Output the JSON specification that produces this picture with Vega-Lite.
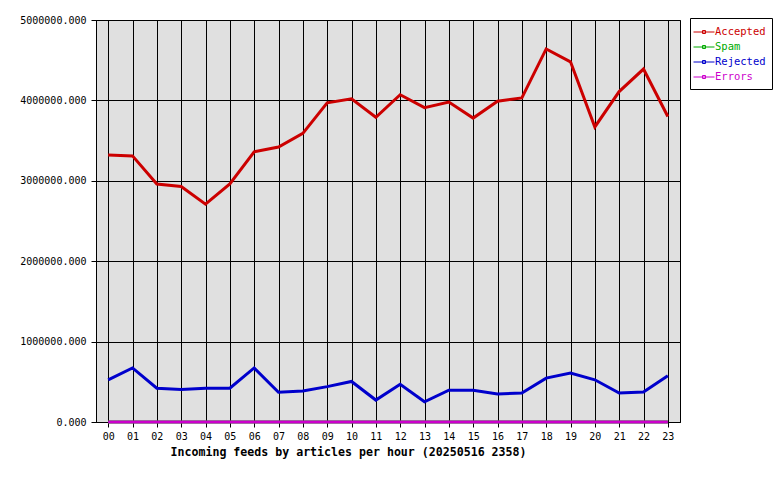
{
  "$schema": "https://vega.github.io/schema/vega-lite/v6.json",
  "width": 584,
  "height": 402,
  "autosize": {"type": "none"},
  "padding": {"left": 96, "top": 20, "right": 100, "bottom": 58},
  "background": "white",
  "config": {
    "view": {"fill": "#e0e0e0", "stroke": "black", "strokeWidth": 1},
    "font": "DejaVu Sans Mono",
    "axis": {
      "gridColor": "black",
      "gridOpacity": 1,
      "gridWidth": 1,
      "domainColor": "black",
      "tickColor": "black",
      "labelColor": "black",
      "labelFont": "DejaVu Sans Mono",
      "labelFontSize": 10,
      "tickSize": 5
    }
  },
  "data": {
    "values": [
      {"hour": "00", "series": "Accepted", "value": 3320000},
      {"hour": "01", "series": "Accepted", "value": 3310000},
      {"hour": "02", "series": "Accepted", "value": 2960000},
      {"hour": "03", "series": "Accepted", "value": 2930000},
      {"hour": "04", "series": "Accepted", "value": 2710000},
      {"hour": "05", "series": "Accepted", "value": 2960000},
      {"hour": "06", "series": "Accepted", "value": 3360000},
      {"hour": "07", "series": "Accepted", "value": 3420000},
      {"hour": "08", "series": "Accepted", "value": 3590000},
      {"hour": "09", "series": "Accepted", "value": 3970000},
      {"hour": "10", "series": "Accepted", "value": 4020000},
      {"hour": "11", "series": "Accepted", "value": 3790000},
      {"hour": "12", "series": "Accepted", "value": 4070000},
      {"hour": "13", "series": "Accepted", "value": 3910000},
      {"hour": "14", "series": "Accepted", "value": 3980000},
      {"hour": "15", "series": "Accepted", "value": 3780000},
      {"hour": "16", "series": "Accepted", "value": 3990000},
      {"hour": "17", "series": "Accepted", "value": 4030000},
      {"hour": "18", "series": "Accepted", "value": 4640000},
      {"hour": "19", "series": "Accepted", "value": 4480000},
      {"hour": "20", "series": "Accepted", "value": 3670000},
      {"hour": "21", "series": "Accepted", "value": 4110000},
      {"hour": "22", "series": "Accepted", "value": 4390000},
      {"hour": "23", "series": "Accepted", "value": 3800000},
      {"hour": "00", "series": "Spam", "value": 0},
      {"hour": "01", "series": "Spam", "value": 0},
      {"hour": "02", "series": "Spam", "value": 0},
      {"hour": "03", "series": "Spam", "value": 0},
      {"hour": "04", "series": "Spam", "value": 0},
      {"hour": "05", "series": "Spam", "value": 0},
      {"hour": "06", "series": "Spam", "value": 0},
      {"hour": "07", "series": "Spam", "value": 0},
      {"hour": "08", "series": "Spam", "value": 0},
      {"hour": "09", "series": "Spam", "value": 0},
      {"hour": "10", "series": "Spam", "value": 0},
      {"hour": "11", "series": "Spam", "value": 0},
      {"hour": "12", "series": "Spam", "value": 0},
      {"hour": "13", "series": "Spam", "value": 0},
      {"hour": "14", "series": "Spam", "value": 0},
      {"hour": "15", "series": "Spam", "value": 0},
      {"hour": "16", "series": "Spam", "value": 0},
      {"hour": "17", "series": "Spam", "value": 0},
      {"hour": "18", "series": "Spam", "value": 0},
      {"hour": "19", "series": "Spam", "value": 0},
      {"hour": "20", "series": "Spam", "value": 0},
      {"hour": "21", "series": "Spam", "value": 0},
      {"hour": "22", "series": "Spam", "value": 0},
      {"hour": "23", "series": "Spam", "value": 0},
      {"hour": "00", "series": "Rejected", "value": 525000},
      {"hour": "01", "series": "Rejected", "value": 672000},
      {"hour": "02", "series": "Rejected", "value": 420000},
      {"hour": "03", "series": "Rejected", "value": 403000},
      {"hour": "04", "series": "Rejected", "value": 420000},
      {"hour": "05", "series": "Rejected", "value": 420000},
      {"hour": "06", "series": "Rejected", "value": 672000},
      {"hour": "07", "series": "Rejected", "value": 370000},
      {"hour": "08", "series": "Rejected", "value": 387000},
      {"hour": "09", "series": "Rejected", "value": 440000},
      {"hour": "10", "series": "Rejected", "value": 504000},
      {"hour": "11", "series": "Rejected", "value": 273000},
      {"hour": "12", "series": "Rejected", "value": 470000},
      {"hour": "13", "series": "Rejected", "value": 252000},
      {"hour": "14", "series": "Rejected", "value": 395000},
      {"hour": "15", "series": "Rejected", "value": 395000},
      {"hour": "16", "series": "Rejected", "value": 349000},
      {"hour": "17", "series": "Rejected", "value": 361000},
      {"hour": "18", "series": "Rejected", "value": 546000},
      {"hour": "19", "series": "Rejected", "value": 609000},
      {"hour": "20", "series": "Rejected", "value": 525000},
      {"hour": "21", "series": "Rejected", "value": 361000},
      {"hour": "22", "series": "Rejected", "value": 374000},
      {"hour": "23", "series": "Rejected", "value": 575000},
      {"hour": "00", "series": "Errors", "value": 0},
      {"hour": "01", "series": "Errors", "value": 0},
      {"hour": "02", "series": "Errors", "value": 0},
      {"hour": "03", "series": "Errors", "value": 0},
      {"hour": "04", "series": "Errors", "value": 0},
      {"hour": "05", "series": "Errors", "value": 0},
      {"hour": "06", "series": "Errors", "value": 0},
      {"hour": "07", "series": "Errors", "value": 0},
      {"hour": "08", "series": "Errors", "value": 0},
      {"hour": "09", "series": "Errors", "value": 0},
      {"hour": "10", "series": "Errors", "value": 0},
      {"hour": "11", "series": "Errors", "value": 0},
      {"hour": "12", "series": "Errors", "value": 0},
      {"hour": "13", "series": "Errors", "value": 0},
      {"hour": "14", "series": "Errors", "value": 0},
      {"hour": "15", "series": "Errors", "value": 0},
      {"hour": "16", "series": "Errors", "value": 0},
      {"hour": "17", "series": "Errors", "value": 0},
      {"hour": "18", "series": "Errors", "value": 0},
      {"hour": "19", "series": "Errors", "value": 0},
      {"hour": "20", "series": "Errors", "value": 0},
      {"hour": "21", "series": "Errors", "value": 0},
      {"hour": "22", "series": "Errors", "value": 0},
      {"hour": "23", "series": "Errors", "value": 0}
    ]
  },
  "mark": {"type": "line", "strokeWidth": 3, "strokeJoin": "miter", "interpolate": "linear"},
  "encoding": {
    "x": {
      "field": "hour",
      "type": "ordinal",
      "scale": {"type": "point", "padding": 0.5},
      "axis": {
        "title": "Incoming feeds by articles per hour (20250516 2358)",
        "titleFont": "DejaVu Sans Mono",
        "titleFontSize": 11.6,
        "titleFontWeight": "bold",
        "titleColor": "black",
        "titleX": 252,
        "titleY": 30,
        "titleAnchor": "middle",
        "titleAlign": "center",
        "titleBaseline": "middle",
        "labelAngle": 0,
        "labelPadding": 4,
        "grid": true
      }
    },
    "y": {
      "field": "value",
      "type": "quantitative",
      "scale": {"domain": [0, 5000000], "nice": false},
      "axis": {
        "title": null,
        "values": [0, 1000000, 2000000, 3000000, 4000000, 5000000],
        "format": ".3f",
        "labelPadding": 5,
        "grid": true
      }
    },
    "color": {
      "field": "series",
      "type": "nominal",
      "sort": ["Accepted", "Spam", "Rejected", "Errors"],
      "scale": {
        "domain": ["Accepted", "Spam", "Rejected", "Errors"],
        "range": ["#cc0000", "#00aa00", "#0000cc", "#cc00cc"]
      },
      "legend": {
        "title": null,
        "orient": "none",
        "legendX": 594,
        "legendY": -2,
        "strokeColor": "black",
        "fillColor": "white",
        "padding": 6,
        "symbolType": "M-1.4,0L1.4,0M-0.2,-0.2L0.2,-0.2L0.2,0.2L-0.2,0.2Z",
        "symbolSize": 225,
        "symbolStrokeWidth": 1,
        "symbolFillColor": "transparent",
        "labelFont": "DejaVu Sans Mono",
        "labelFontSize": 10.5,
        "labelOffset": 3,
        "rowPadding": 1,
        "encode": {
          "labels": {"update": {"fill": {"scale": "color", "field": "value"}}}
        }
      }
    }
  }
}
